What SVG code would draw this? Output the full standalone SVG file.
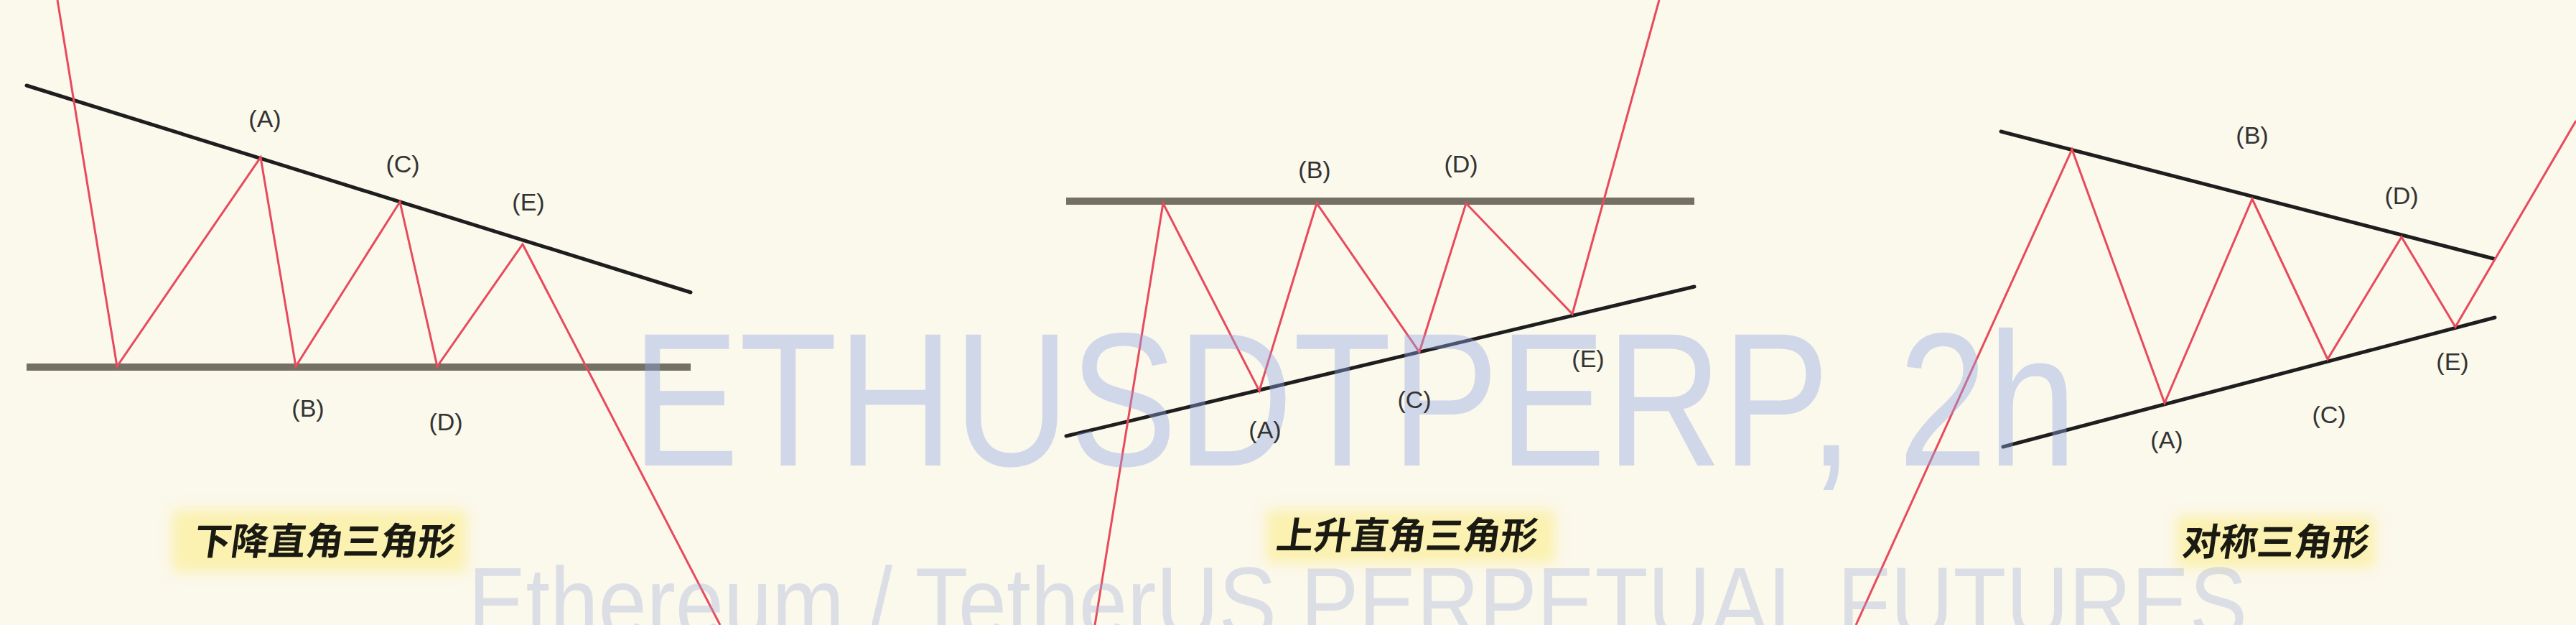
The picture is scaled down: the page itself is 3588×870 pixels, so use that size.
<svg xmlns="http://www.w3.org/2000/svg" width="3588" height="870" viewBox="0 0 3588 870">
<defs>
<style>
.trend{stroke:#1e1e1e;stroke-width:5;fill:none;stroke-linecap:round}
.flat{stroke:#747064;stroke-width:10;fill:none}
.wave{stroke:#e84a5c;stroke-width:3;fill:none;stroke-linejoin:miter}
.lbl{font-family:"Liberation Sans",Arial,sans-serif;font-size:34px;fill:#333;text-anchor:middle}
.title{font-family:"Noto Sans CJK SC","Noto Sans CJK JP",sans-serif;font-size:52px;font-weight:bold;fill:#1a1a12;text-anchor:middle}
.glow{fill:#fbf1b0;filter:url(#blur)}
.wm{font-family:"Liberation Sans",Arial,sans-serif;fill:#8fa6e6;opacity:0.4}
.wm2{font-family:"Liberation Sans",Arial,sans-serif;fill:#9aa8d8;opacity:0.32}
</style>
<filter id="blur" x="-20%" y="-50%" width="140%" height="200%"><feGaussianBlur stdDeviation="9"/></filter>
</defs>
<rect x="0" y="0" width="3588" height="870" fill="#fbf8ec"/>

<g id="glows">
<rect class="glow" x="240" y="710" width="410" height="86"/>
<rect class="glow" x="1764" y="710" width="402" height="74"/>
<rect class="glow" x="3032" y="718" width="276" height="72"/>
</g>

<g id="connectors">
<line class="trend" x1="37" y1="119" x2="962" y2="407"/>
<line class="flat" x1="37" y1="511" x2="962" y2="511"/>
<line class="flat" x1="1485" y1="280" x2="2360" y2="280"/>
<line class="trend" x1="1485" y1="607" x2="2360" y2="399"/>
<line class="trend" x1="2787" y1="183" x2="3473" y2="360"/>
<line class="trend" x1="2790" y1="622" x2="3475" y2="442"/>
<polyline class="wave" points="80,0 163,510 363,219 412,510 557,281 609,510 728,340 1003,870"/>
<polyline class="wave" points="1525,870 1620,283 1754,544 1834,283 1977,490 2042,283 2190,437 2311,0"/>
<polyline class="wave" points="2585,870 2886,208 3015,561 3137,277 3242,500 3345,330 3420,455 3588,168"/>
</g>

<g id="watermark">
<text class="wm" x="880" y="648" font-size="265" textLength="2013" lengthAdjust="spacingAndGlyphs">ETHUSDTPERP, 2h</text>
<text class="wm2" x="652" y="887" font-size="140" textLength="2478" lengthAdjust="spacingAndGlyphs">Ethereum / TetherUS PERPETUAL FUTURES</text>
</g>

<g id="descending-triangle">
<text class="lbl" x="369" y="177">(A)</text>
<text class="lbl" x="561" y="240">(C)</text>
<text class="lbl" x="736" y="293">(E)</text>
<text class="lbl" x="429" y="580">(B)</text>
<text class="lbl" x="621" y="599">(D)</text>
<text class="title" transform="translate(450,772) skewX(-8)" x="0" y="0">下降直角三角形</text>
</g>

<g id="ascending-triangle">
<text class="lbl" x="1831" y="248">(B)</text>
<text class="lbl" x="2035" y="240">(D)</text>
<text class="lbl" x="1762" y="610">(A)</text>
<text class="lbl" x="1970" y="568">(C)</text>
<text class="lbl" x="2212" y="511">(E)</text>
<text class="title" transform="translate(1958,764) skewX(-8)" x="0" y="0">上升直角三角形</text>
</g>

<g id="symmetric-triangle">
<text class="lbl" x="3137" y="200">(B)</text>
<text class="lbl" x="3345" y="284">(D)</text>
<text class="lbl" x="3018" y="624">(A)</text>
<text class="lbl" x="3244" y="589">(C)</text>
<text class="lbl" x="3416" y="515">(E)</text>
<text class="title" transform="translate(3168,773) skewX(-8)" x="0" y="0">对称三角形</text>
</g>
</svg>
